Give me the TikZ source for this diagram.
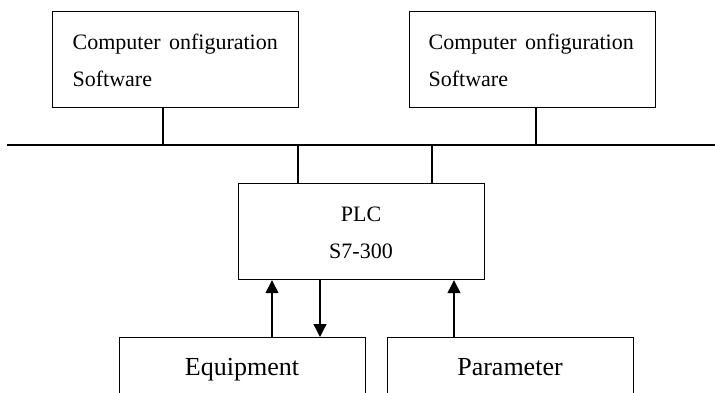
\documentclass[tikz,border=0pt]{standalone}
\usepackage{fontspec}
\setmainfont{Liberation Serif}
\usetikzlibrary{arrows.meta}
\begin{document}
\begin{tikzpicture}[x=1pt,y=-1pt,
  line width=1.2pt,
  box/.style={draw, line width=1.2pt, inner sep=0pt, minimum width=246pt, anchor=north west},
  tall/.style={box, minimum height=96pt},
  lowbox/.style={box, minimum height=90pt},
  smalltxt/.style={inner sep=0pt, font=\fontsize{22}{26}\selectfont},
  bigtxt/.style={inner sep=0pt, font=\fontsize{26}{30}\selectfont},
  arr/.style={-{Triangle[length=13pt,width=13pt]}, line width=1.3pt}]
\useasboundingbox (0,0) rectangle (715,392);
\clip (0,0) rectangle (715,392);
% boxes
\node[tall] (c1) at (52,11) {};
\node[tall] (c2) at (409,11) {};
\node[tall] (plc) at (238,183) {};
\node[lowbox] (eq) at (119,337) {};
\node[lowbox] (par) at (387,337) {};
% texts
\node[smalltxt, anchor=base west] (t1a) at (72,49) {Computer\hspace{3pt} onfiguration};
\node[smalltxt, anchor=base west] (t1b) at (72,86) {Software};
\node[smalltxt, anchor=base west] (t2a) at (428,49) {Computer\hspace{3pt} onfiguration};
\node[smalltxt, anchor=base west] (t2b) at (428,86) {Software};
\node[smalltxt, anchor=base] (p1) at (361,221) {PLC};
\node[smalltxt, anchor=base] (p2) at (361,258) {S7-300};
\node[bigtxt, anchor=base] (te) at (242,375) {Equipment};
\node[bigtxt, anchor=base] (tp) at (510,375) {Parameter};
% bus
\coordinate (busL) at (7,145);
\coordinate (busR) at (715,145);
\draw (busL) -- (busR);
\coordinate (b1) at (163,145);
\coordinate (b2) at (536,145);
\coordinate (b3) at (298,145);
\coordinate (b4) at (432,145);
\draw (b1) -- (b1 |- c1.south);
\draw (b2) -- (b2 |- c2.south);
\draw (b3) -- (b3 |- plc.north);
\draw (b4) -- (b4 |- plc.north);
% arrows
\coordinate (a1) at (272,337);
\coordinate (a2) at (320,279);
\coordinate (a3) at (454,337);
\draw[arr] (a1) -- (a1 |- plc.south);
\draw[arr] (a2) -- (a2 |- eq.north);
\draw[arr] (a3) -- (a3 |- plc.south);
\end{tikzpicture}
\end{document}
